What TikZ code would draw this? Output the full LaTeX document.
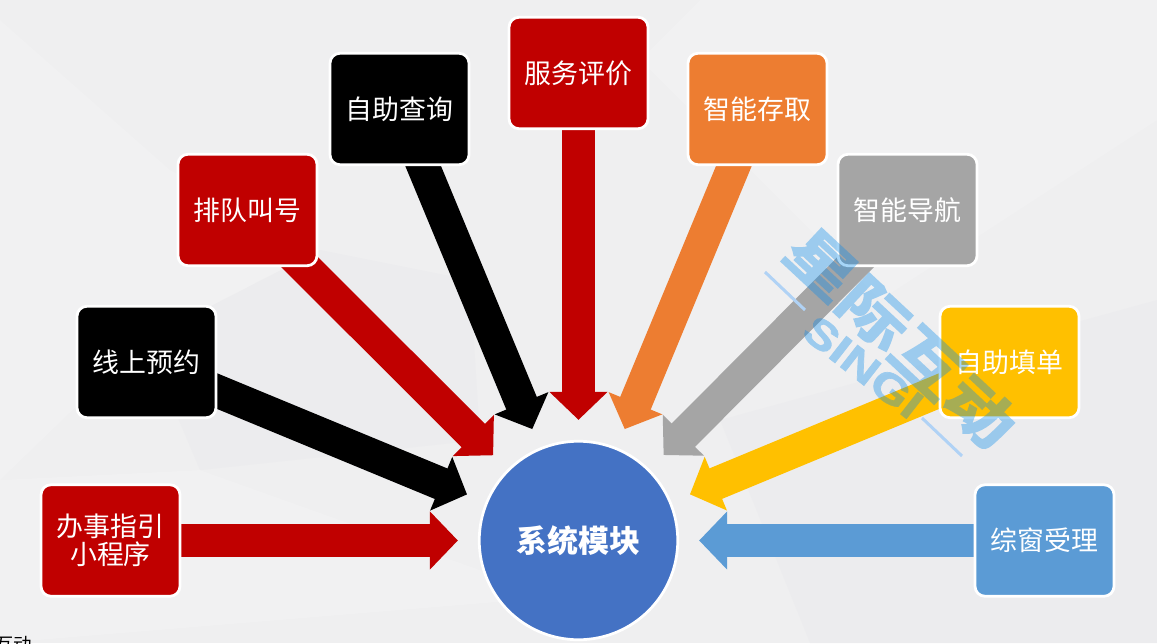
\documentclass[tikz,border=0pt]{standalone}
\usepackage{xcolor}
\usepackage{fontspec}
\setmainfont{Noto Sans CJK SC}
\newfontfamily\latinbold[FakeBold=1.5]{Liberation Sans Bold}
\newfontfamily\markfont[FakeBold=2.5]{Noto Sans CJK SC Bold}
\usetikzlibrary{positioning, arrows.meta, backgrounds}
\definecolor{sheet}{RGB}{239,239,240}
\definecolor{sheetlight}{RGB}{241,241,242}
\definecolor{sheetdark}{RGB}{236,236,238}
\definecolor{boxred}{RGB}{192,0,0}
\definecolor{boxorange}{RGB}{237,125,49}
\definecolor{boxgrey}{RGB}{165,165,165}
\definecolor{boxgold}{RGB}{255,192,0}
\definecolor{boxblue}{RGB}{91,155,213}
\definecolor{hubblue}{RGB}{68,114,196}
\definecolor{markblue}{RGB}{10,140,235}
\definecolor{markline}{RGB}{176,210,245}

\begin{document}
\begin{tikzpicture}[on grid, node distance=3.57cm and 8.63cm,
  box/.style={draw=white, line width=0.055cm, rounded corners=0.2cm, minimum width=2.78cm, minimum height=2.23cm,
    align=center, text=white, font=\fontsize{15.3pt}{16pt}\selectfont},
  hub/.style={circle, draw=white, line width=0.055cm, fill=hubblue, minimum size=3.97cm, text=white,
    font=\fontsize{17.6pt}{20pt}\selectfont\bfseries},
  arr/.style={line width=0.66cm, -{Triangle[length=0.56cm, width=1.13cm]}, shorten >=0.4cm, shorten <=-0.4cm},
  wmark/.style={text=markblue}]
  \useasboundingbox (0,0) rectangle (23.14,12.86);

  \node[hub] (hub) at (11.57,2.05) {系统模块};
  \node[box, fill=boxred, left=9.36cm of hub] (guide) {办事指引\\小程序};
  \node[box, fill=black, above left=3.57cm and 8.64cm of hub] (booking) {线上预约};
  \node[box, fill=boxred, above left=6.61cm and 6.62cm of hub] (queue) {排队叫号};
  \node[box, fill=black, above left=8.63cm and 3.58cm of hub] (query) {自助查询};
  \node[box, fill=boxred, above=9.35cm of hub] (rating) {服务评价};
  \node[box, fill=boxorange, above right=8.63cm and 3.58cm of hub] (locker) {智能存取};
  \node[box, fill=boxgrey, above right=6.61cm and 6.58cm of hub] (navi) {智能导航};
  \node[box, fill=boxgold, above right=3.57cm and 8.62cm of hub] (form) {自助填单};
  \node[box, fill=boxblue, right=9.32cm of hub] (window) {综窗受理};

  \begin{scope}[on background layer]
    \fill[sheet] (0,0) rectangle (23.14,12.86);
    \begin{scope}[x=0.02cm, y=-0.02cm, yshift=12.86cm]
      % faint folds of the sheet
      \fill[sheetlight] (0,20) -- (170,170) -- (320,250) -- (145,340) -- (0,480) -- cycle;
      \fill[sheetdark] (145,340) -- (320,250) -- (470,280) -- (480,440) -- (200,470) -- cycle;
      \fill[sheetlight] (0,480) -- (200,470) -- (480,570) -- (520,600) -- (0,643) -- cycle;
      \fill[sheetlight] (640,60) -- (880,300) -- (1157,120) -- (1157,0) -- (700,0) -- cycle;
      \fill[sheetdark] (720,420) -- (1157,300) -- (1157,643) -- (810,643) -- cycle;
    \end{scope}
    \foreach \from/\col in {guide/boxred, booking/black, queue/boxred, query/black, rating/boxred,
      locker/boxorange, navi/boxgrey, form/boxgold, window/boxblue}
      \draw[arr, \col] (\from) -- (hub);
  \end{scope}

  \node[anchor=north west, inner sep=0pt, font=\fontsize{10.5pt}{12pt}\selectfont] (cut) at (-0.1,0.14) {互动};

  % watermark
  \begin{scope}[transparency group, opacity=0.36]
    \node[wmark, rotate=-43, font=\markfont\fontsize{41pt}{43pt}\selectfont] (brand) at (18.02,6.1) {\scalebox{1}[0.82]{星际互动}};
    \node[wmark, rotate=-38, font=\latinbold\fontsize{29pt}{31pt}\selectfont] (brandsub) at (17.26,5.52) {\scalebox{1}[0.8]{SINGI}};
  \end{scope}
  \draw[markline, line width=0.06cm] (15.3,7.42) -- (16.1,6.66);
  \draw[markline, line width=0.06cm] (18.44,4.5) -- (19.24,3.74);
\end{tikzpicture}
\end{document}
